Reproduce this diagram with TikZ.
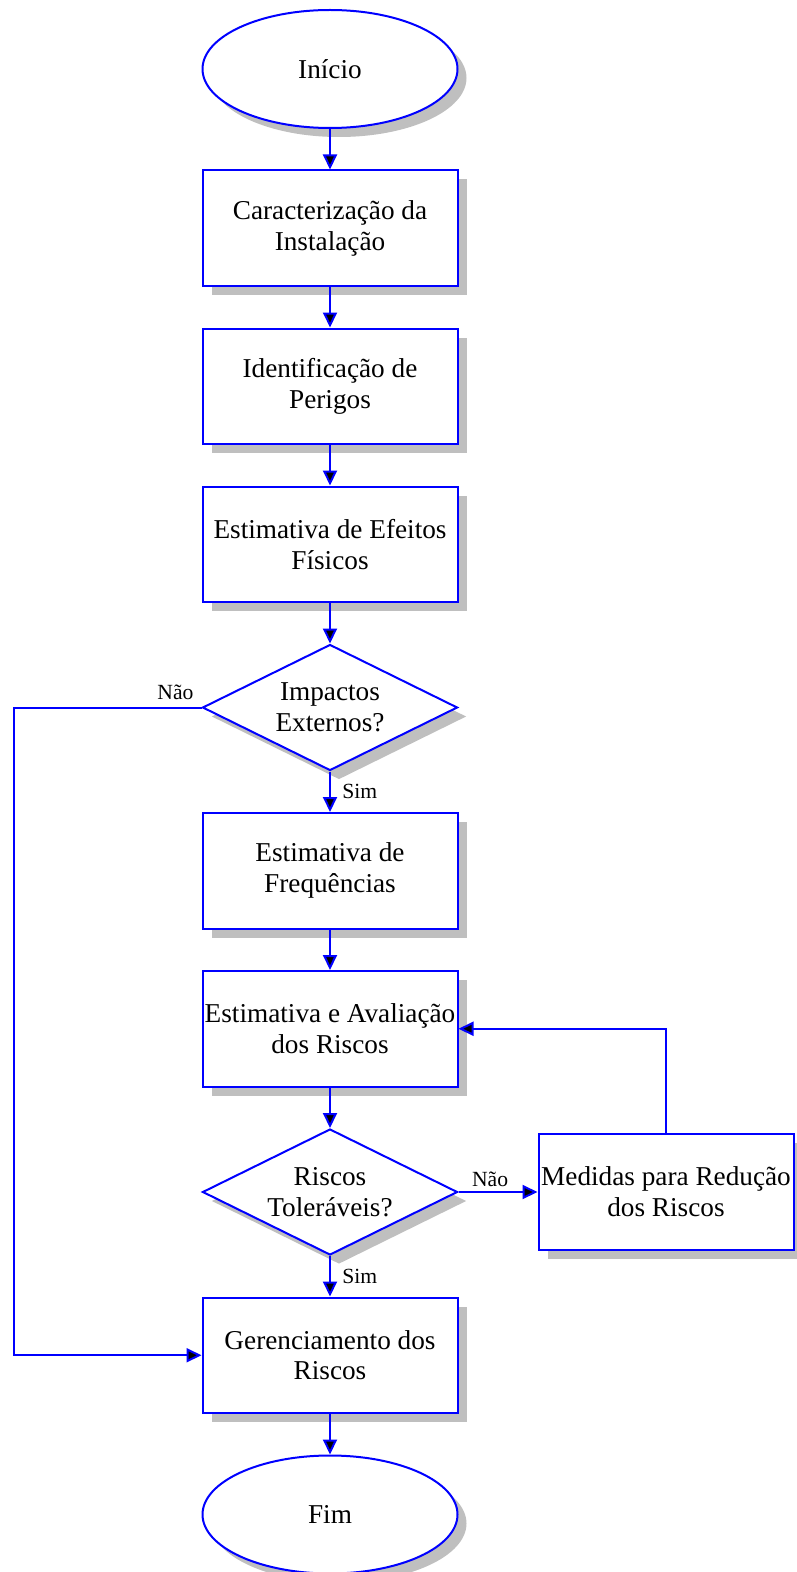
\documentclass[tikz,border=0pt]{standalone}
\usepackage{fontspec}
\setmainfont{Liberation Serif}
\usetikzlibrary{positioning,shapes.geometric,arrows.meta,shadows}

\begin{document}
\begin{tikzpicture}[node distance=0.81cm, >={Triangle[length=0.3cm, width=0.28cm, fill=black]},
  box/.style={draw=blue, line width=0.04cm, fill=white, minimum width=5.1cm, minimum height=2.31cm,
    align=center, inner sep=0pt, font=\fontsize{15.5}{17.5}\selectfont,
    drop shadow={shadow xshift=0.18cm, shadow yshift=-0.18cm, fill=black!25, opacity=1}},
  term/.style={box, ellipse, minimum height=2.36cm},
  dec/.style={box, diamond, shape aspect=2.02, minimum height=2.52cm},
  line/.style={draw=blue, line width=0.04cm, ->},
  lbl/.style={font=\fontsize{12.3}{14}\selectfont, inner sep=2.5pt}]
\useasboundingbox (0,0) rectangle (15.92,-31.44);
\node (ini) [term] at (6.6,-1.38) {Início};
\node (car) [box, below=of ini] {Caracterização da\\Instalação};
\node (ide) [box, below=of car] {Identificação de\\Perigos};
\node (efe) [box, below=of ide] {Estimativa de Efeitos\\Físicos};
\node (imp) [dec, below=of efe] {Impactos\\Externos?};
\node (fre) [box, below=of imp] {Estimativa de\\Frequências};
\node (ava) [box, below=of fre] {Estimativa e Avaliação\\dos Riscos};
\node (tol) [dec, below=of ava] {Riscos\\Toleráveis?};
\node (med) [box, right=1.58cm of tol] {Medidas para Redução\\dos Riscos};
\node (ger) [box, below=of tol] {Gerenciamento dos\\Riscos};
\node (fim) [term, below=of ger] {Fim};
\coordinate [left=3.76cm of imp.west] (esq);

\draw[line] (ini) -- (car);
\draw[line] (car) -- (ide);
\draw[line] (ide) -- (efe);
\draw[line] (efe) -- (imp);
\draw[line] (imp) -- node[lbl, right, xshift=4pt] {Sim} (fre);
\draw[line] (fre) -- (ava);
\draw[line] (ava) -- (tol);
\draw[line] (tol) -- node[lbl, right, xshift=4pt] {Sim} (ger);
\draw[line] (ger) -- (fim);
\draw[line] (tol) -- node[lbl, pos=0.4, above] {Não} (med);
\draw[line] (med.north) |- (ava.east);
\draw[line] (imp.west) node[lbl, above left, inner sep=4pt] {Não} -- (esq) |- (ger.west);
\end{tikzpicture}
\end{document}
